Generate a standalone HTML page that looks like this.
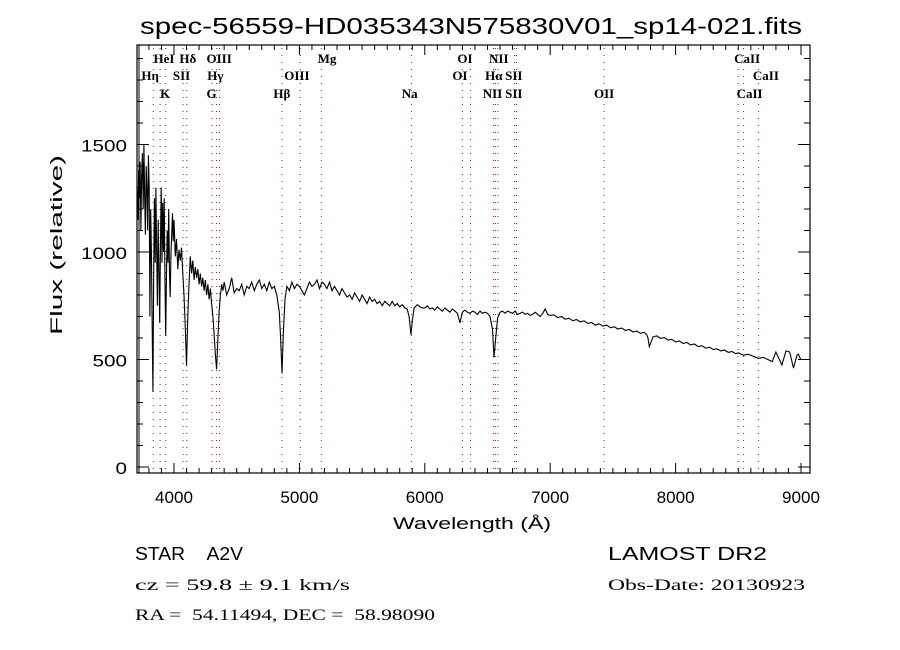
<!DOCTYPE html>
<html><head><meta charset="utf-8">
<style>
html,body{margin:0;padding:0;background:#fff;}
svg{display:block;}
.t{font-family:"Liberation Sans",sans-serif;fill:#000;}
.s{font-family:"Liberation Serif",serif;fill:#000;}
</style></head>
<body>
<svg id="chart" width="900" height="650" viewBox="0 0 900 650" xmlns="http://www.w3.org/2000/svg">
<rect x="0" y="0" width="900" height="650" fill="#fff"/>
<text class="t" x="140" y="34" font-size="23" textLength="662" lengthAdjust="spacingAndGlyphs">spec-56559-HD035343N575830V01_sp14-021.fits</text>
<text class="t" x="0" y="0" font-size="17" text-anchor="middle" textLength="180" lengthAdjust="spacingAndGlyphs" transform="translate(62,245) rotate(-90)">Flux (relative)</text>
<text class="t" x="393" y="529" font-size="17" textLength="158" lengthAdjust="spacingAndGlyphs">Wavelength (Å)</text>
<g id="lines"></g>
<g id="axes"></g>
<path id="spec" fill="none" stroke="#000" stroke-width="1.1"/>
<text class="t" x="135" y="560" font-size="18" textLength="108" lengthAdjust="spacingAndGlyphs">STAR&#160;&#160;&#160;&#160;A2V</text>
<text class="s" x="135" y="590" font-size="16" textLength="215" lengthAdjust="spacingAndGlyphs">cz = 59.8 ± 9.1 km/s</text>
<text class="s" x="135" y="620" font-size="16" textLength="300" lengthAdjust="spacingAndGlyphs">RA =&#160;&#160;54.11494, DEC =&#160;&#160;58.98090</text>
<text class="t" x="608" y="560" font-size="18" textLength="159" lengthAdjust="spacingAndGlyphs">LAMOST DR2</text>
<text class="s" x="608" y="590" font-size="16" textLength="197" lengthAdjust="spacingAndGlyphs">Obs-Date: 20130923</text>
</svg>
<script>
const waves=[3705,3712,3718,3724,3730,3736,3742,3748,3754,3760,3766,3772,3778,3784,3790,3796,3802,3808,3814,3820,3826,3832,3838,3844,3850,3856,3862,3868,3874,3880,3886,3892,3898,3904,3910,3916,3922,3928,3934,3940,3946,3952,3958,3964,3970,3976,3982,3988,3994,4000,4010,4020,4030,4040,4050,4060,4070,4080,4090,4100,4110,4120,4130,4140,4150,4160,4170,4180,4190,4200,4210,4220,4230,4240,4250,4260,4270,4280,4290,4300,4310,4320,4330,4340,4350,4360,4370,4380,4390,4400,4420,4440,4460,4480,4500,4520,4540,4560,4580,4600,4620,4640,4660,4680,4700,4720,4740,4760,4780,4800,4820,4840,4850,4861,4872,4885,4900,4920,4940,4960,4980,5000,5020,5040,5060,5080,5100,5120,5140,5160,5180,5200,5220,5240,5260,5280,5300,5320,5340,5360,5380,5400,5420,5440,5460,5480,5500,5520,5540,5560,5580,5600,5620,5640,5660,5680,5700,5720,5740,5760,5780,5800,5820,5840,5860,5875,5890,5900,5915,5940,5960,5980,6000,6020,6040,6060,6080,6100,6120,6140,6160,6180,6200,6220,6240,6260,6280,6300,6320,6340,6360,6380,6400,6420,6440,6460,6480,6500,6520,6540,6552,6565,6580,6600,6620,6640,6660,6680,6700,6720,6740,6760,6780,6800,6820,6840,6860,6880,6900,6920,6940,6960,6980,7000,7030,7060,7090,7120,7150,7180,7210,7240,7270,7300,7330,7360,7390,7420,7450,7480,7510,7540,7570,7600,7630,7660,7690,7720,7750,7770,7780,7790,7820,7850,7880,7910,7940,7970,8000,8030,8060,8090,8120,8150,8180,8210,8240,8270,8300,8330,8360,8390,8420,8450,8480,8500,8540,8580,8620,8660,8700,8735,8770,8800,8848,8880,8910,8940,8968,8980,8990,9000];
const flux=[1300,1150,1380,1250,1420,1100,1350,1460,1200,1500,1250,1080,1400,1300,1100,1450,1300,700,1200,1000,650,350,900,1250,950,1300,1000,750,1150,900,670,1050,1300,950,1230,1000,1250,850,610,900,1100,950,1200,900,790,1000,1080,1180,1050,1150,980,1060,920,1010,960,1020,900,800,650,470,700,850,980,900,960,870,930,880,920,850,900,840,880,820,870,800,850,780,830,760,700,620,520,455,600,720,800,850,820,860,800,830,880,810,830,820,850,800,840,830,860,820,850,870,830,850,820,860,830,840,800,720,600,435,620,780,840,820,860,830,850,840,820,800,830,860,840,850,870,830,860,850,830,860,820,840,820,800,830,810,790,800,780,810,790,770,800,780,760,790,770,780,760,770,750,770,760,750,770,750,760,745,755,740,735,700,615,680,740,755,745,740,740,750,735,740,730,745,735,725,740,730,720,735,725,715,670,720,730,720,715,725,720,710,725,715,720,715,700,640,510,600,690,720,725,715,725,720,715,725,710,715,720,710,715,705,710,720,710,700,715,735,710,705,708,695,700,688,692,680,686,675,680,668,672,660,666,655,660,648,652,642,646,635,640,628,632,622,626,615,600,560,605,610,598,602,590,594,582,586,575,579,568,572,560,564,553,557,546,550,540,544,533,537,527,531,520,524,515,505,510,500,490,535,475,540,535,460,520,525,510,500,480,200,20];
const markerWaves=[3835,3889,3934,4072,4102,4304,4340,4363,4861,5007,5175,5893,6300,6364,6548,6563,6583,6716,6731,7430,8498,8542,8662];
const labelText=["HeI","Hδ","OIII","Mg","OI","NII","CaII","Hη","SII","Hγ","OIII","OI","Hα","SII","CaII","K","G","Hβ","Na","NII","SII","OII","CaII"];
const labelRow=[0,0,0,0,0,0,0,1,1,1,1,1,1,1,1,2,2,2,2,2,2,2,2];
const labelWave=[3920,4110,4360,5220,6320,6590,8570,3810,4060,4330,4980,6280,6550,6710,8720,3930,4300,4860,5880,6540,6710,7430,8590];
const xTicks=[4000,5000,6000,7000,8000,9000];
const yTicks=[0,500,1000,1500];

const L=137,R=810,T=45,B=473;
const xs=w=>174+(w-4000)*0.1254;
const ys=f=>467-f*0.215;
const NS='http://www.w3.org/2000/svg';
const lines=document.getElementById('lines');
const axes=document.getElementById('axes');
function mk(tag,attrs,parent){const e=document.createElementNS(NS,tag);for(const k in attrs)e.setAttribute(k,attrs[k]);parent.appendChild(e);return e;}

markerWaves.forEach(w=>{
  const l=mk('line',{x1:xs(w),x2:xs(w),y1:T+3,y2:B,stroke:'#8b1a1a','stroke-width':1,'stroke-dasharray':'1,6'},lines);
  
  
});
const rowY=[63,80,98];
labelText.forEach((t,i)=>{
  const e=mk('text',{x:xs(labelWave[i]),y:rowY[labelRow[i]],'font-size':13,'font-weight':'bold','text-anchor':'middle','class':'s'},lines);
  e.textContent=t;
  
  
});

const fr=mk('rect',{x:L,y:T,width:R-L,height:B-T,fill:'none',stroke:'#000','stroke-width':1.2},axes);


mk('line',{x1:L+2,x2:L+2,y1:T,y2:B,stroke:'#000','stroke-width':1},axes);
for(let w=3800;w<=9000;w+=100){
  const x=xs(w);const major=w%1000===0;const len=major?10:5;
  mk('line',{x1:x,x2:x,y1:B,y2:B-len,stroke:'#000'},axes);
  mk('line',{x1:x,x2:x,y1:T,y2:T+len,stroke:'#000'},axes);
}
for(let f=0;f<=1900;f+=100){
  const y=ys(f);const major=f%500===0;const len=major?12:6;
  mk('line',{x1:L,x2:L+len,y1:y,y2:y,stroke:'#000'},axes);
  mk('line',{x1:R,x2:R-len,y1:y,y2:y,stroke:'#000'},axes);
}
xTicks.forEach(v=>{
  const e=mk('text',{x:xs(v)-19,y:503,'font-size':17,textLength:38,lengthAdjust:'spacingAndGlyphs','class':'t'},axes);
  e.textContent=v;
  
  
});
yTicks.forEach(v=>{
  const s=String(v);const w=s.length*11.5;
  const e=mk('text',{x:127-w,y:ys(v)+7,'font-size':17,textLength:w,lengthAdjust:'spacingAndGlyphs','class':'t'},axes);
  e.textContent=s;
  
  
});

let d='';
waves.forEach((w,i)=>{d+=(i?'L':'M')+xs(w).toFixed(1)+','+ys(flux[i]).toFixed(1);});
document.getElementById('spec').setAttribute('d',d);
</script>
</body></html>
